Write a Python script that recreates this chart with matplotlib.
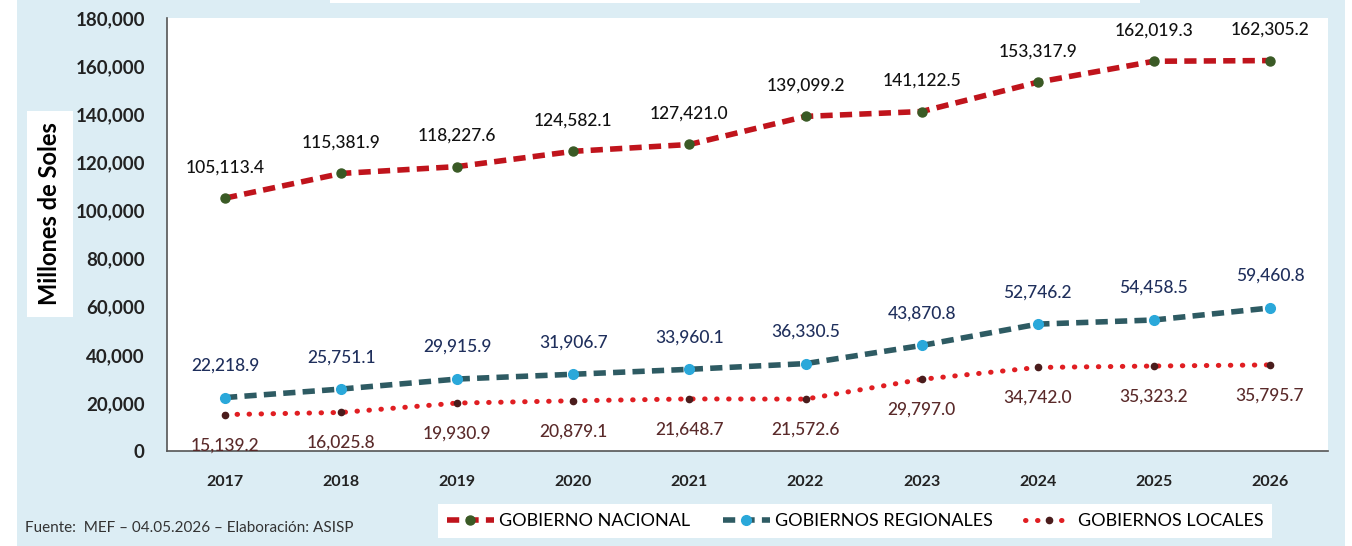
import matplotlib.pyplot as plt
import matplotlib.patches as mpatches
import numpy as np

years = ['2017', '2018', '2019', '2020', '2021', '2022', '2023', '2024', '2025', '2026']
nacional = [105113.4, 115381.9, 118227.6, 124582.1, 127421.0, 139099.2, 141122.5, 153317.9, 162019.3, 162305.2]
regionales = [22218.9, 25751.1, 29915.9, 31906.7, 33960.1, 36330.5, 43870.8, 52746.2, 54458.5, 59460.8]
locales = [15139.2, 16025.8, 19930.9, 20879.1, 21648.7, 21572.6, 29797.0, 34742.0, 35323.2, 35795.7]
yticks = [0, 20000, 40000, 60000, 80000, 100000, 120000, 140000, 160000, 180000]

FONT = ['Lato', 'DejaVu Sans']
NARROW = ['Liberation Sans Narrow', 'Lato', 'DejaVu Sans']
plt.rcParams['font.family'] = FONT

fig = plt.figure(figsize=(13.52, 5.46), dpi=100)
fig.patch.set_facecolor('white')
# light blue panel behind everything
fig.patches.append(mpatches.Rectangle((17/1352, 0), (1345-17)/1352, 1, transform=fig.transFigure,
                                      facecolor='#DCEDF4', edgecolor='none', zorder=-10))
fig.patches.append(mpatches.Rectangle((330/1352, 1-3/546), (1140-330)/1352, 3/546, transform=fig.transFigure,
                                      facecolor='white', edgecolor='none', zorder=-9))

ax = fig.add_axes([167/1352, 95/546, (1328-167)/1352, (451-18)/546])
ax.set_facecolor('white')
x = np.arange(len(years))

ax.plot(x, nacional, linestyle=(0, (2.2, 1.3)), color='#C0141C', linewidth=4,
        marker='o', markersize=6.5, markerfacecolor='#3A5A25', markeredgecolor='#3A5A25',
        label='GOBIERNO NACIONAL', zorder=3)
ax.plot(x, regionales, linestyle=(0, (2.2, 1.3)), color='#2E5B63', linewidth=4,
        marker='o', markersize=7, markerfacecolor='#2AA8DA', markeredgecolor='#2AA8DA',
        label='GOBIERNOS REGIONALES', zorder=3)
ax.plot(x, locales, linestyle=(0, (0.1, 2.3)), color='#E01E22', linewidth=3.6, dash_capstyle='round',
        marker='o', markersize=4.5, markerfacecolor='#4A1C1C', markeredgecolor='#4A1C1C',
        label='GOBIERNOS LOCALES', zorder=3)

for i in range(len(years)):
    ax.annotate(f'{nacional[i]:,.1f}', (x[i], nacional[i]), xytext=(0, 22), textcoords='offset points',
                ha='center', va='center', fontsize=12.5, color='#111111', fontweight='medium')
    ax.annotate(f'{regionales[i]:,.1f}', (x[i], regionales[i]), xytext=(0, 23), textcoords='offset points',
                ha='center', va='center', fontsize=12.5, color='#1F2F5C', fontweight='medium')
    ax.annotate(f'{locales[i]:,.1f}', (x[i], locales[i]), xytext=(0, -22), textcoords='offset points',
                ha='center', va='center', fontsize=12.5, color='#5A2A2A', fontweight='medium')

ax.set_xlim(-0.5, len(years) - 0.5)
ax.set_ylim(0, 180000)
ax.set_xticks(x)
ax.set_xticklabels(years, fontsize=11.5, fontweight='bold', color='#222222')
ax.set_yticks(yticks)
ax.set_yticklabels([f'{v:,}' for v in yticks], fontsize=13.5, fontweight='bold', color='#222222')
ax.tick_params(axis='both', length=0)
ax.tick_params(axis='x', pad=17)
ax.tick_params(axis='y', pad=16)
for s in ['top', 'right']:
    ax.spines[s].set_visible(False)
for s in ['left', 'bottom']:
    ax.spines[s].set_color('#555555')
    ax.spines[s].set_linewidth(1.2)

fig.text(50/1352, 1-214/546, 'Millones de Soles', rotation=90, ha='center', va='center',
         fontsize=17, fontweight='bold', color='black',
         bbox=dict(facecolor='white', edgecolor='none', pad=8))

fig.text(25/1352, 1-528/546, 'Fuente:  MEF \u2013 04.05.2026 \u2013 Elaboración: ASISP',
         ha='left', va='center', fontsize=11, color='#333333', family=NARROW)

leg = fig.legend(loc='center', bbox_to_anchor=(855/1352, 1-521/546), ncol=3, frameon=True,
                 fancybox=False, facecolor='white', edgecolor='none', framealpha=1,
                 handlelength=2.6, columnspacing=1.8, handletextpad=0.3, borderpad=0.5,
                 prop={'family': NARROW, 'size': 13})

fig.savefig('out.png', dpi=100)
